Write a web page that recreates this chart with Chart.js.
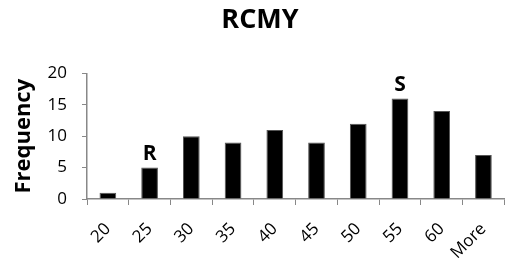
<!DOCTYPE html>
<html>
<head>
<meta charset="utf-8">
<script src="https://cdn.jsdelivr.net/npm/chart.js@4"></script>
<style>
  html, body { margin: 0; padding: 0; background: #fff; }
  #wrap { width: 512px; height: 267px; }
</style>
</head>
<body>
<div id="wrap"><canvas id="chart"></canvas></div>
<script>
const bins = ['20', '25', '30', '35', '40', '45', '50', '55', '60', 'More'];
const frequency = [1, 5, 10, 9, 11, 9, 12, 16, 14, 7];
const marks = ['', 'R', '', '', '', '', '', 'S', '', ''];
const yTicks = [0, 5, 10, 15, 20];

const FONT = "'Open Sans', sans-serif";

// draws the R / S letters over their bars
const barMarks = {
  id: 'barMarks',
  afterDatasetsDraw(chart) {
    const ctx = chart.ctx;
    const meta = chart.getDatasetMeta(0);
    ctx.save();
    ctx.font = 'bold 21px ' + FONT;
    ctx.fillStyle = '#000';
    ctx.textAlign = 'center';
    ctx.textBaseline = 'alphabetic';
    marks.forEach((m, i) => {
      if (!m) return;
      const bar = meta.data[i];
      ctx.fillText(m, bar.x, bar.y - 8);
    });
    ctx.restore();
  }
};

new Chart(document.getElementById('chart'), {
  type: 'bar',
  data: {
    labels: bins,
    datasets: [{
      data: frequency,
      backgroundColor: '#000',
      borderColor: '#555',
      borderWidth: 1,
      barPercentage: 0.4,
      categoryPercentage: 1
    }]
  },
  options: {
    responsive: true,
    maintainAspectRatio: false,
    animation: false,
    layout: { padding: { top: 0, right: 3, left: 11, bottom: 0 } },
    plugins: {
      legend: { display: false },
      tooltip: { enabled: false },
      title: {
        display: true,
        text: 'RCMY',
        color: '#000',
        font: { family: FONT, size: 27, weight: 'bold' },
        padding: { top: 4, bottom: 37 }
      }
    },
    scales: {
      x: {
        grid: { drawOnChartArea: false, offset: true, color: '#888', tickLength: 6 },
        border: { color: '#888', width: 1.5 },
        ticks: { color: '#000', font: { family: FONT, size: 17 }, maxRotation: 45, minRotation: 45, padding: 14 },
        afterFit: s => { s.height = 68; }
      },
      y: {
        min: 0,
        max: 20,
        afterBuildTicks: s => { s.ticks = yTicks.map(v => ({ value: v })); },
        grid: { drawOnChartArea: false, color: '#888', tickLength: 5 },
        border: { color: '#888', width: 1.5 },
        ticks: { color: '#000', font: { family: FONT, size: 17 }, padding: 15 },
        title: {
          display: true,
          text: 'Frequency',
          color: '#000',
          font: { family: FONT, size: 22, weight: 'bold' },
          padding: { top: 0, bottom: 0 }
        },
        afterFit: s => { s.width = 76; }
      }
    }
  },
  plugins: [barMarks]
});
</script>
</body>
</html>
